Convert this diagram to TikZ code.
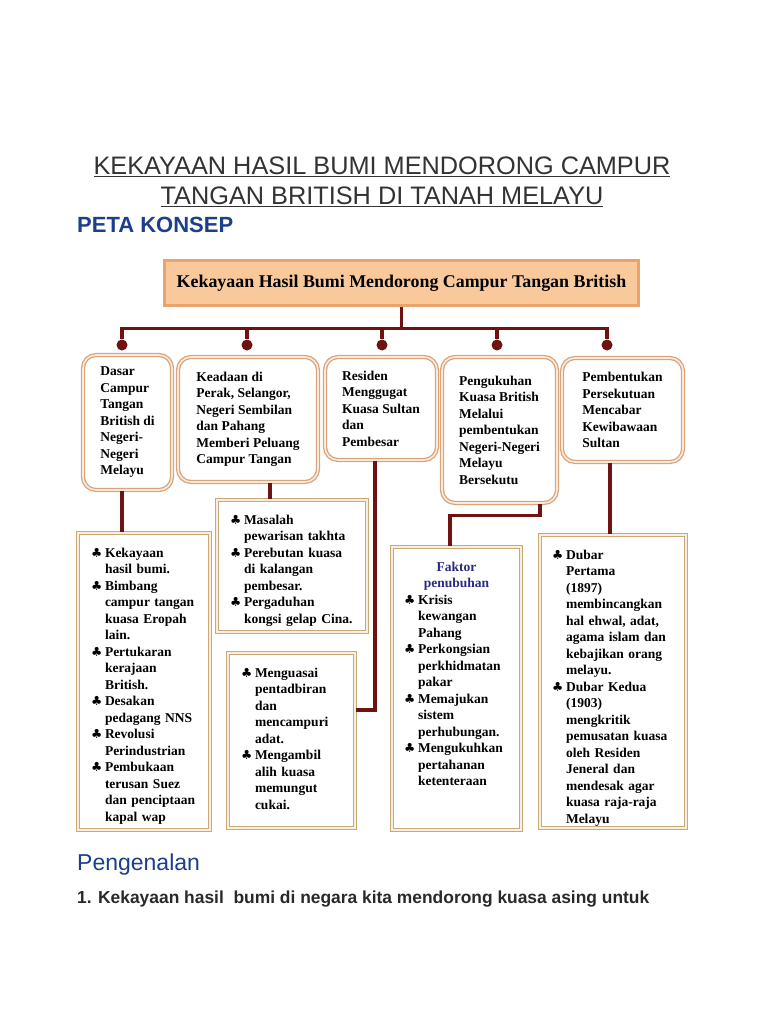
\documentclass[tikz,border=0pt]{standalone}
\usepackage{fontspec}
\usepackage{xcolor}
\usepackage{tikz}
\setmainfont{Liberation Serif}
\newfontfamily\headfont{Liberation Sans}
\newfontfamily\symfont{DejaVu Sans}
\definecolor{MapRed}{HTML}{6E1212}
\definecolor{MapBlue}{HTML}{1B3F8B}
\definecolor{MapInk}{HTML}{333333}
\definecolor{TopFill}{HTML}{F9C99C}
\definecolor{TopEdge}{HTML}{E9A36C}
\definecolor{CatEdge}{HTML}{DCA378}
\definecolor{LowEdge}{HTML}{CBA874}
\definecolor{FaktorBlue}{HTML}{2A2A80}
\newcommand{\club}{\makebox[14pt][l]{\symfont\fontsize{12.5}{12}\selectfont ♣}}
\newcommand{\ci}{\hspace*{14pt}}

\begin{document}
\begin{tikzpicture}[x=1pt, y=-1pt,
  topbox/.style={draw=TopEdge, line width=3pt, fill=TopFill, minimum width=474pt, minimum height=45pt, font=\fontsize{17.9}{20}\selectfont\bfseries},
  catbox/.style={rounded corners=13pt, draw=CatEdge, double=CatEdge!22, double distance=1.6pt, line width=1.3pt, fill=white, align=left, font=\fontsize{13.5}{16.5}\selectfont\bfseries},
  lowbox/.style={draw=LowEdge, double=LowEdge!20, double distance=1.6pt, line width=1.1pt, fill=white, align=left, text height=11pt, inner xsep=12pt, inner ysep=13pt, font=\fontsize{13.5}{16.5}\selectfont\bfseries},
  heading/.style={anchor=base west, inner sep=0pt},
  link/.style={draw=MapRed, line width=3.6pt},
  knob/.style={circle, fill=MapRed, inner sep=0pt, minimum size=11pt}]
\fill[white] (0,0) rectangle (768,1024);
\useasboundingbox (0,0) rectangle (768,1024);

% headings
\node[anchor=base, inner sep=0pt, font=\headfont\fontsize{25.3}{28}\selectfont, text=MapInk] (titleA) at (382,175) {\underline{KEKAYAAN HASIL BUMI MENDORONG CAMPUR}};
\node[anchor=base, inner sep=0pt, font=\headfont\fontsize{25.3}{28}\selectfont, text=MapInk] (titleB) at (382,205) {\underline{TANGAN BRITISH DI TANAH MELAYU}};
\node[heading, font=\headfont\bfseries\fontsize{22}{24}\selectfont, text=MapBlue] (peta) at (77,233) {PETA KONSEP};

% main concept
\node[topbox] (top) at (401.5,283) {Kekayaan Hasil Bumi Mendorong Campur Tangan British};

% five factors
\node[catbox, minimum width=89pt, minimum height=135pt] (catA) at (127.5,422.5) {Dasar\\Campur\\Tangan\\British di\\Negeri-\\Negeri\\Melayu};
\node[catbox, minimum width=140pt, minimum height=125pt] (catB) at (248,419.5) {Keadaan di\\Perak, Selangor,\\Negeri Sembilan\\dan Pahang\\Memberi Peluang\\Campur Tangan};
\node[catbox, minimum width=112pt, minimum height=103pt] (catC) at (381,408.5) {Residen\\Menggugat\\Kuasa Sultan\\dan\\Pembesar};
\node[catbox, minimum width=115pt, minimum height=146pt] (catD) at (499.5,430) {Pengukuhan\\Kuasa British\\Melalui\\pembentukan\\Negeri-Negeri\\Melayu\\Bersekutu};
\node[catbox, minimum width=121pt, minimum height=104pt] (catE) at (622.5,410) {Pembentukan\\Persekutuan\\Mencabar\\Kewibawaan\\Sultan};

% details
\node[lowbox, minimum width=132pt, minimum height=297pt, text width=106pt, text depth=260pt] (kekayaan) at (144,681.5) {\club Kekayaan\\\ci hasil bumi.\\\club Bimbang\\\ci campur tangan\\\ci kuasa Eropah\\\ci lain.\\\club Pertukaran\\\ci kerajaan\\\ci British.\\\club Desakan\\\ci pedagang NNS\\\club Revolusi\\\ci Perindustrian\\\club Pembukaan\\\ci terusan Suez\\\ci dan penciptaan\\\ci kapal wap};
\node[lowbox, minimum width=150pt, minimum height=132pt, text width=124pt, text depth=95pt] (masalah) at (292,566) {\club Masalah\\\ci pewarisan takhta\\\club Perebutan kuasa\\\ci di kalangan\\\ci pembesar.\\\club Pergaduhan\\\ci kongsi gelap Cina.};
\node[lowbox, minimum width=127pt, minimum height=175pt, text width=101pt, text depth=138pt] (menguasai) at (291.5,740.5) {\club Menguasai\\\ci pentadbiran\\\ci dan\\\ci mencampuri\\\ci adat.\\\club Mengambil\\\ci alih kuasa\\\ci memungut\\\ci cukai.};
\node[lowbox, minimum width=127pt, minimum height=283pt, text width=105pt, text depth=246pt] (faktor) at (456.5,688.5) {\makebox[\linewidth]{\color{FaktorBlue}Faktor}\\\makebox[\linewidth]{\color{FaktorBlue}penubuhan}\\\club Krisis\\\ci kewangan\\\ci Pahang\\\club Perkongsian\\\ci perkhidmatan\\\ci pakar\\\club Memajukan\\\ci sistem\\\ci perhubungan.\\\club Mengukuhkan\\\ci pertahanan\\\ci ketenteraan};
\node[lowbox, minimum width=146pt, minimum height=293pt, text width=122pt, text depth=256pt] (dubar) at (613,681.5) {\club Dubar\\\ci Pertama\\\ci (1897)\\\ci membincangkan\\\ci hal ehwal, adat,\\\ci agama islam dan\\\ci kebajikan orang\\\ci melayu.\\\club Dubar Kedua\\\ci (1903)\\\ci mengkritik\\\ci pemusatan kuasa\\\ci oleh Residen\\\ci Jeneral dan\\\ci mendesak agar\\\ci kuasa raja-raja\\\ci Melayu};

% connectors
\coordinate (hub) at ([yshift=-21.5pt]top.south);
\node[knob] (knobA) at (122,345) {};
\node[knob] (knobB) at (247,345) {};
\node[knob] (knobC) at (382,345) {};
\node[knob] (knobD) at (497,345) {};
\node[knob] (knobE) at (607,345) {};
\draw[link] (top.south) -- (hub);
\draw[link] (hub) -| (knobA);
\draw[link] (hub) -| (knobB);
\draw[link] (hub) -| (knobC);
\draw[link] (hub) -| (knobD);
\draw[link] (hub) -| (knobE);
\draw[link] (knobA |- catA.south) -- (knobA |- kekayaan.north);
\draw[link] ([xshift=22pt]catB.south) -- ([xshift=22pt]catB.south |- masalah.north);
\draw[link] ([xshift=-6pt]catC.south) |- ([yshift=30.5pt]menguasai.east);
\draw[link] ([xshift=40.5pt]catD.south) -- ++(0,12) -| ([xshift=-6.5pt]faktor.north);
\draw[link] ([xshift=-12.5pt]catE.south) -- ([xshift=-12.5pt]catE.south |- dubar.north);

% text below the map
\node[heading, font=\headfont\fontsize{23}{26}\selectfont, text=MapBlue] (intro) at (77,870) {Pengenalan};
\node[heading, font=\headfont\bfseries\fontsize{17.4}{20}\selectfont, text=MapInk!80!black] (point) at (77,903) {1. Kekayaan hasil\ \ bumi di negara kita mendorong kuasa asing untuk};
\end{tikzpicture}
\end{document}
